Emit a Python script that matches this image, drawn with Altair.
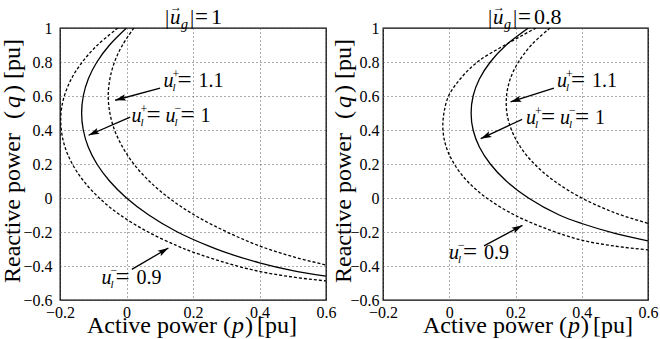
import math
import altair as alt
import pandas as pd

FONT = "'Liberation Serif', 'Times New Roman', Times, serif"

# ---------------- axes ----------------
X_DOMAIN = [-0.2, 0.6]
Y_DOMAIN = [-0.6, 1.0]
X_TICKS = [-0.2, 0.0, 0.2, 0.4, 0.6]
Y_TICKS = [-0.6, -0.4, -0.2, 0.0, 0.2, 0.4, 0.6, 0.8, 1.0]

# ---------------- curves, left panel |u_g| = 1 ----------------
L_SOLID_P = [0.000, -0.051, -0.089, -0.115, -0.130, -0.135, -0.130, -0.115, -0.089, -0.051, 0.000, 0.067, 0.153, 0.250, 0.300, 0.400, 0.500, 0.600]
L_SOLID_Q = [1.0, 0.9, 0.8, 0.7, 0.6, 0.5, 0.4, 0.3, 0.2, 0.1, 0.0, -0.1, -0.2, -0.285, -0.322, -0.381, -0.427, -0.460]
L_PLUS_P = [0.022, -0.012, -0.036, -0.050, -0.055, -0.050, -0.036, -0.012, 0.022, 0.068, 0.128, 0.204, 0.300, 0.400, 0.500, 0.600]
L_PLUS_Q = [1.0, 0.9, 0.8, 0.7, 0.6, 0.5, 0.4, 0.3, 0.2, 0.1, 0.0, -0.1, -0.198, -0.282, -0.345, -0.394]
L_MINUS_P = [-0.026, -0.087, -0.133, -0.166, -0.187, -0.197, -0.196, -0.185, -0.163, -0.129, -0.082, -0.019, 0.065, 0.150, 0.200, 0.300, 0.400, 0.500, 0.600]
L_MINUS_Q = [1.0, 0.9, 0.8, 0.7, 0.6, 0.5, 0.4, 0.3, 0.2, 0.1, 0.0, -0.1, -0.2, -0.279, -0.318, -0.382, -0.432, -0.465, -0.488]

# ---------------- curves, right panel |u_g| = 0.8 ----------------
R_SOLID_P = [0.239, 0.172, 0.124, 0.091, 0.072, 0.066, 0.072, 0.091, 0.124, 0.172, 0.239, 0.332, 0.400, 0.500, 0.600]
R_SOLID_Q = [1.0, 0.9, 0.8, 0.7, 0.6, 0.5, 0.4, 0.3, 0.2, 0.1, 0.0, -0.1, -0.150, -0.208, -0.252]
R_PLUS_P = [0.304, 0.248, 0.209, 0.184, 0.173, 0.174, 0.188, 0.215, 0.257, 0.317, 0.400, 0.500, 0.600]
R_PLUS_Q = [1.0, 0.9, 0.8, 0.7, 0.6, 0.5, 0.4, 0.3, 0.2, 0.1, 0.0, -0.087, -0.149]
R_MINUS_P = [0.262, 0.168, 0.085, 0.033, -0.002, -0.016, -0.019, -0.009, 0.015, 0.054, 0.113, 0.197, 0.300, 0.400, 0.500, 0.600]
R_MINUS_Q = [1.0, 0.9, 0.8, 0.7, 0.6, 0.5, 0.4, 0.3, 0.2, 0.1, 0.0, -0.1, -0.186, -0.248, -0.283, -0.305]

# ---------------- annotations ----------------
TITLE_VALUES = ["1", "0.8"]
LABEL_KINDS = ["plus", "both", "minus"]
LABEL_VALUES = ["1.1", "1", "0.9"]
L_LABEL_P = [0.111, 0.015, -0.075]
L_LABEL_Q = [0.653, 0.447, -0.504]
R_LABEL_P = [0.325, 0.232, -0.001]
R_LABEL_Q = [0.653, 0.435, -0.361]
L_TAIL_P = [0.101, 0.011, 0.016]
L_TAIL_Q = [0.647, 0.476, -0.420]
L_TIP_P = [-0.034, -0.114, 0.126]
L_TIP_Q = [0.575, 0.369, -0.294]
R_TAIL_P = [0.316, 0.220, 0.105]
R_TAIL_Q = [0.647, 0.463, -0.282]
R_TIP_P = [0.185, 0.095, 0.221]
R_TIP_Q = [0.565, 0.349, -0.161]

H = 272
ARROW_PATH = "M0,0L0.5,1.7L0,1.35L-0.5,1.7Z"


def curve_frame(curves):
    rows = []
    for name, ps, qs in curves:
        for i, (p, q) in enumerate(zip(ps, qs)):
            rows.append({"curve": name, "idx": i, "p": p, "q": q})
    return pd.DataFrame(rows)


def build_panel(width, curves, labels_p, labels_q, tails_p, tails_q, tips_p, tips_q,
                title_value, ylabpad, ytitle_x, xtitle_start):
    xs = alt.Scale(domain=X_DOMAIN, nice=False, zero=False)
    ys = alt.Scale(domain=Y_DOMAIN, nice=False, zero=False)
    common = dict(grid=True, gridColor="#555555", gridDash=[1, 3], gridWidth=1,
                  ticks=False, domain=False, labelFont=FONT, labelFontSize=16,
                  labelColor="black", labelFlush=False, labelOverlap=False,
                  title=None, format=".1~f")
    xaxis = alt.Axis(values=X_TICKS, labelPadding=4, **common)
    yaxis = alt.Axis(values=Y_TICKS, labelPadding=ylabpad, **common)

    def X(f):
        return alt.X(f, type="quantitative", scale=xs, axis=xaxis)

    def Y(f):
        return alt.Y(f, type="quantitative", scale=ys, axis=yaxis)

    df = curve_frame(curves)
    base = alt.Chart(df)
    layers = []
    layers.append(base.transform_filter(alt.datum.curve == "solid").mark_line(
        color="black", strokeWidth=1.3, interpolate="catmull-rom", clip=True
    ).encode(x=X("p"), y=Y("q"), order="idx:Q"))
    layers.append(base.transform_filter(alt.datum.curve != "solid").mark_line(
        color="black", strokeWidth=1.3, strokeDash=[3, 2], interpolate="catmull-rom", clip=True
    ).encode(x=X("p"), y=Y("q"), detail="curve:N", order="idx:Q"))

    # arrows
    sx = width / (X_DOMAIN[1] - X_DOMAIN[0])
    sy = H / (Y_DOMAIN[1] - Y_DOMAIN[0])
    angs = [math.degrees(math.atan2((hp - tp) * sx, (hq - tq) * sy)) % 360
            for tp, tq, hp, hq in zip(tails_p, tails_q, tips_p, tips_q)]
    adf = pd.DataFrame({"tp": tails_p, "tq": tails_q, "hp": tips_p, "hq": tips_q, "ang": angs})
    ab = alt.Chart(adf)
    layers.append(ab.mark_rule(color="black", strokeWidth=1.3).encode(
        x=X("tp"), y=Y("tq"), x2="hp:Q", y2="hq:Q"))
    layers.append(ab.mark_point(shape=ARROW_PATH, filled=True, color="black", size=160,
                                opacity=1, strokeWidth=0).encode(
        x=X("hp"), y=Y("hq"), angle=alt.Angle("ang:Q", scale=None)))

    # curve labels built from fragments (u, superscript, subscript, =, value)
    for kind, val, lp, lq in zip(LABEL_KINDS, LABEL_VALUES, labels_p, labels_q):
        if kind == "plus":
            frags = [("u", True, 20, 0, 0), ("+", False, 12, 9, -9), ("l", True, 11, 9, 4),
                     ("=", False, 25, 14, 1), (val, False, 20, 35, 0)]
        elif kind == "minus":
            frags = [("u", True, 20, 0, 0), ("\u2212", False, 12, 9, -10), ("l", True, 11, 9, 4),
                     ("=", False, 25, 14, 1), (val, False, 20, 35, 0)]
        else:
            frags = [("u", True, 20, 0, 0), ("+", False, 12, 9, -9), ("l", True, 11, 9, 4),
                     ("=", False, 25, 15, 1),
                     ("u", True, 20, 34, 0), ("\u2212", False, 12, 43, -10), ("l", True, 11, 43, 4),
                     ("=", False, 25, 49, 1), (val, False, 20, 69, 0)]
        fdf = pd.DataFrame({"p": [lp], "q": [lq]})
        for txt, it, size, dx, dy in frags:
            layers.append(alt.Chart(fdf).mark_text(
                text=txt, font=FONT, fontSize=size, fontStyle="italic" if it else "normal",
                align="left", baseline="alphabetic", dx=dx, dy=dy, color="black"
            ).encode(x=X("p"), y=Y("q")))

    one = pd.DataFrame({"k": [0]})

    def ptext(txt, x, y, size, it=False, align="left", angle=0):
        return alt.Chart(one).mark_text(
            text=txt, font=FONT, fontSize=size, fontStyle="italic" if it else "normal",
            align=align, baseline="alphabetic", angle=angle, color="black"
        ).encode(x=alt.value(x), y=alt.value(y))

    # panel title |u_g| = value
    layers += [
        ptext("|", 105, -4, 21),
        ptext("u", 110, -4, 21, it=True),
        ptext("\u2192", 110, -17, 12),
        ptext("g", 121, 1, 14, it=True),
        ptext("|", 130, -4, 21),
        ptext("=", 135, -4, 23),
        ptext(title_value, 151, -4, 22),
    ]
    # x-axis title
    s = xtitle_start
    yb = H + 33
    layers += [
        ptext("Active power", s, yb, 24),
        ptext("(", s + 136, yb, 24),
        ptext("p", s + 145, yb, 24, it=True),
        ptext(")", s + 158, yb, 24),
        ptext("[pu]", s + 170, yb, 24),
    ]
    # y-axis title (rotated)
    layers += [
        ptext("Reactive power", ytitle_x, 180, 24, align="center", angle=270),
        ptext("(", ytitle_x, 87, 24, align="center", angle=270),
        ptext("q", ytitle_x, 74, 24, it=True, align="center", angle=270),
        ptext(")", ytitle_x, 61, 24, align="center", angle=270),
        ptext("[pu]", ytitle_x, 31, 24, align="center", angle=270),
    ]
    return alt.layer(*layers).properties(width=width, height=H)


left = build_panel(
    266,
    [("solid", L_SOLID_P, L_SOLID_Q), ("plus", L_PLUS_P, L_PLUS_Q), ("minus", L_MINUS_P, L_MINUS_Q)],
    L_LABEL_P, L_LABEL_Q, L_TAIL_P, L_TAIL_Q, L_TIP_P, L_TIP_Q,
    TITLE_VALUES[0], 8, -40, 27)
right = build_panel(
    265,
    [("solid", R_SOLID_P, R_SOLID_Q), ("plus", R_PLUS_P, R_PLUS_Q), ("minus", R_MINUS_P, R_MINUS_Q)],
    R_LABEL_P, R_LABEL_Q, R_TAIL_P, R_TAIL_Q, R_TIP_P, R_TIP_Q,
    TITLE_VALUES[1], 4, -32, 40)

chart = alt.hconcat(left, right, spacing=57, bounds="flush").configure_view(
    stroke="black", strokeWidth=1.3
).configure_axis(
    labelFont=FONT
).configure_text(
    font=FONT
).properties(
    padding={"left": 0, "top": 0, "right": 0, "bottom": 0},
    background="white",
)

chart.save("out.html", embed_options={"renderer": "svg", "actions": False})
